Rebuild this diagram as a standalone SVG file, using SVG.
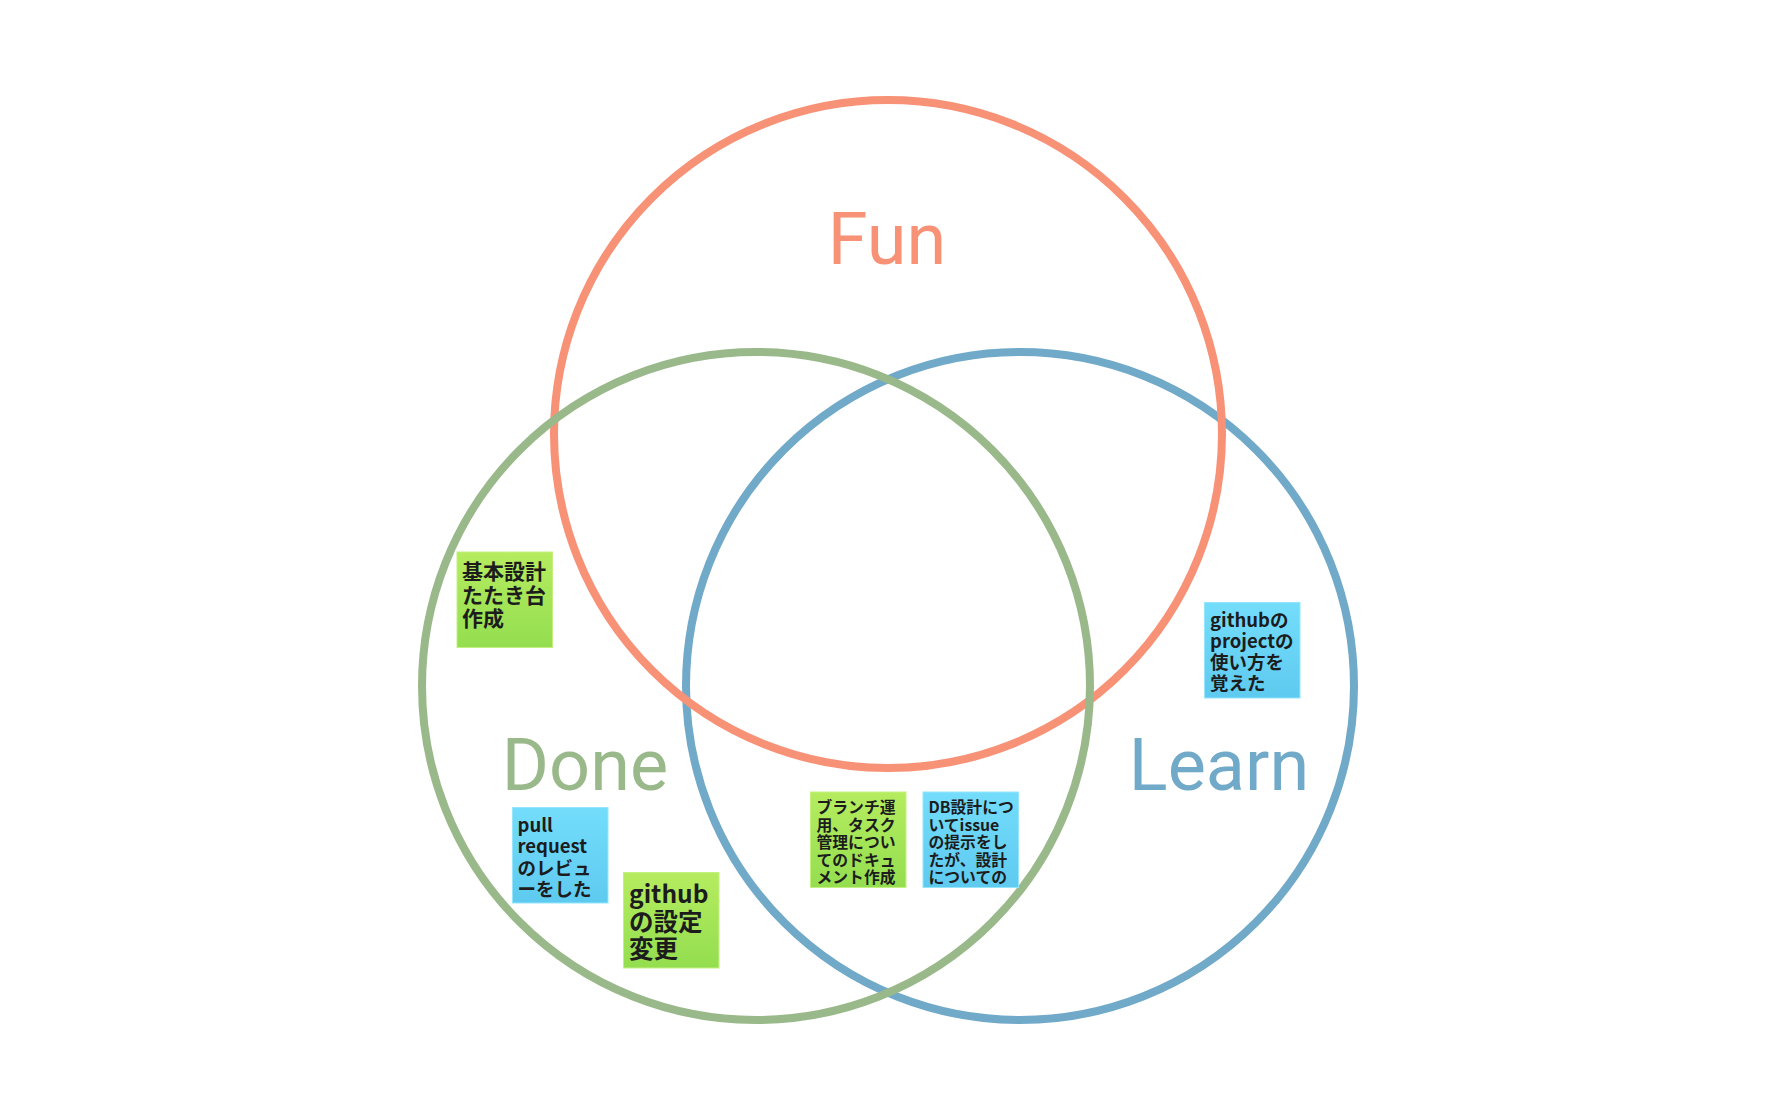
<svg xmlns="http://www.w3.org/2000/svg" width="1791" height="1119" viewBox="0 0 1791 1119">
  <defs>
    <linearGradient id="gGreen" x1="0" y1="0" x2="0" y2="1">
      <stop offset="0" stop-color="#B6EC5F"/>
      <stop offset="1" stop-color="#93DE50"/>
    </linearGradient>
    <linearGradient id="gBlue" x1="0" y1="0" x2="0" y2="1">
      <stop offset="0" stop-color="#74DDFC"/>
      <stop offset="1" stop-color="#5ECAEF"/>
    </linearGradient>
    <style>
      .ring { fill: none; stroke-width: 8; }
      .label { font-family: Roboto, "Liberation Sans", sans-serif; font-size: 72px; text-anchor: middle; }
      .note { stroke-width: 1; }
      .green { fill: url(#gGreen); stroke: #C4F082; }
      .blue { fill: url(#gBlue); stroke: #95E6FD; }
      .nt { font-family: "Noto Sans CJK JP", "Noto Sans", sans-serif; font-weight: bold; fill: #1C1C1C; }
    </style>
  </defs>
  <rect width="1791" height="1119" fill="#FFFFFF"/>

  <!-- sets (rings stacked: Learn, Fun, Done) -->
  <g id="learn">
    <circle class="ring" cx="1020" cy="686" r="334" stroke="#71A9C9"/>
    <text class="label" x="1219" y="790" fill="#71A9C9">Learn</text>
  </g>
  <g id="fun">
    <circle class="ring" cx="888" cy="434" r="334" stroke="#F79277"/>
    <text class="label" x="887" y="264" fill="#F79277">Fun</text>
  </g>
  <g id="done">
    <circle class="ring" cx="756" cy="686" r="334" stroke="#9AB98A"/>
    <text class="label" x="585" y="790" fill="#9AB98A">Done</text>
  </g>

  <!-- sticky notes -->
  <g id="note-basic-design">
    <rect class="note green" x="457" y="552" width="95.5" height="95.5"/>
    <text class="nt" font-size="21" x="462">
      <tspan x="462" y="579">基本設計</tspan>
      <tspan x="462" y="602.5">たたき台</tspan>
      <tspan x="462" y="626">作成</tspan>
    </text>
  </g>

  <g id="note-github-project">
    <rect class="note blue" x="1204.5" y="602.5" width="95.5" height="95.5"/>
    <text class="nt" font-size="18.5" x="1210">
      <tspan x="1210" y="627">githubの</tspan>
      <tspan x="1210" y="648">projectの</tspan>
      <tspan x="1210" y="669">使い方を</tspan>
      <tspan x="1210" y="690">覚えた</tspan>
    </text>
  </g>

  <g id="note-pull-request">
    <rect class="note blue" x="512.5" y="807.5" width="95.5" height="95.5"/>
    <text class="nt" font-size="18.5" x="517.5">
      <tspan x="517.5" y="832">pull</tspan>
      <tspan x="517.5" y="853">request</tspan>
      <tspan x="517.5" y="874.5">のレビュ</tspan>
      <tspan x="517.5" y="895.5">ーをした</tspan>
    </text>
  </g>

  <g id="note-github-settings">
    <rect class="note green" x="623.5" y="872.5" width="95.5" height="95.5"/>
    <text class="nt" font-size="24.5" x="629">
      <tspan x="629" y="903">github</tspan>
      <tspan x="629" y="930.5">の設定</tspan>
      <tspan x="629" y="958">変更</tspan>
    </text>
  </g>

  <g id="note-branch-docs">
    <rect class="note green" x="810.5" y="792" width="95.5" height="95.5"/>
    <text class="nt" font-size="15.8" x="816.5">
      <tspan x="816.5" y="813">ブランチ運</tspan>
      <tspan x="816.5" y="830.5">用、タスク</tspan>
      <tspan x="816.5" y="848">管理につい</tspan>
      <tspan x="816.5" y="865.5">てのドキュ</tspan>
      <tspan x="816.5" y="883">メント作成</tspan>
    </text>
  </g>

  <g id="note-db-design">
    <rect class="note blue" x="923" y="792" width="95.5" height="95.5"/>
    <text class="nt" font-size="15.8" x="928.5">
      <tspan x="928.5" y="813">DB設計につ</tspan>
      <tspan x="928.5" y="830.5">いてissue</tspan>
      <tspan x="928.5" y="848">の提示をし</tspan>
      <tspan x="928.5" y="865.5">たが、設計</tspan>
      <tspan x="928.5" y="883">についての</tspan>
    </text>
  </g>

  <!-- no connectors in this diagram -->
  <g id="connectors"/>
</svg>
